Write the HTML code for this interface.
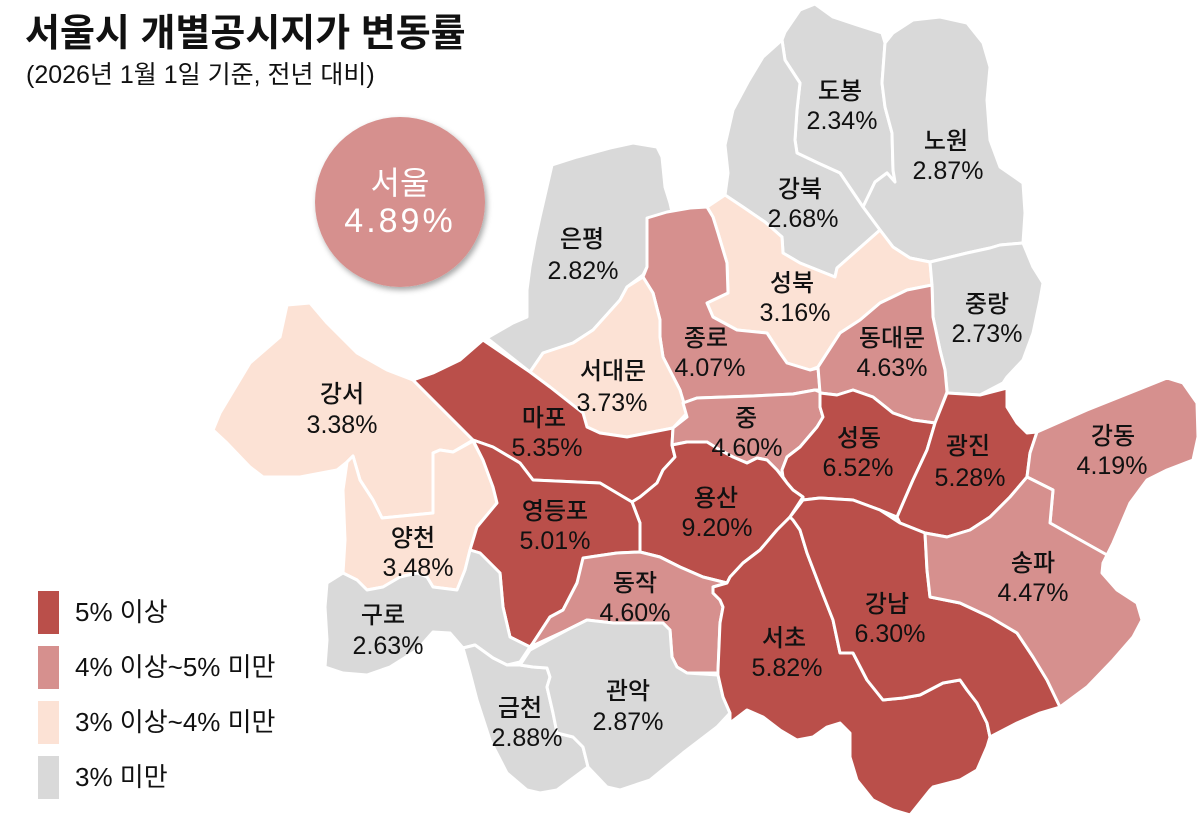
<!DOCTYPE html>
<html>
<head>
<meta charset="utf-8">
<style>
html,body{margin:0;padding:0;background:#fff;}
svg{display:block;}
text{font-family:"Liberation Sans","Noto Sans CJK KR",sans-serif;}
.k{font-size:24px;font-weight:500;fill:#111;text-anchor:middle;}
.n{font-size:25px;fill:#111;text-anchor:middle;}
.d{fill:#BA4F4A;}
.m{fill:#D6908E;}
.p{fill:#FCE2D5;}
.g{fill:#D9D9D9;}
.map polygon{stroke:#fff;stroke-width:3;stroke-linejoin:round;}
</style>
</head>
<body>
<svg width="1200" height="817" viewBox="0 0 1200 817" xmlns="http://www.w3.org/2000/svg">
<defs>
<filter id="sh" x="-20%" y="-20%" width="150%" height="150%">
<feDropShadow dx="2" dy="3" stdDeviation="3" flood-color="#000" flood-opacity="0.35"/>
</filter>
</defs>
<rect width="1200" height="817" fill="#fff"/>

<text x="25" y="46" style="font-size:38px;font-weight:bold;fill:#111;">서울시 개별공시지가 변동률</text>
<text x="26" y="83" style="font-size:25px;fill:#111;">(2026년 1월 1일 기준, 전년 대비)</text>

<circle cx="400" cy="202" r="85" fill="#D6908E" filter="url(#sh)"/>
<text x="400" y="194" style="font-size:32px;fill:#fff;text-anchor:middle;">서울</text>
<text x="400" y="232" style="font-size:34px;fill:#fff;text-anchor:middle;letter-spacing:3px;">4.89%</text>

<g class="map">
<polygon class="g" points="785,32 800,10 815,4 833,17 857,25 882,33 885,43 882,83 885,107 892,133 893,170 895,182 887,173 875,182 863,207 840,173 818,163 797,153 795,140 797,110 800,83 785,60 782,40"/>
<polygon class="g" points="885,43 893,33 913,20 940,17 967,23 983,43 990,67 987,100 990,140 1000,167 1023,183 1025,213 1023,243 1000,245 990,248 967,253 930,262 910,258 893,247 880,230 863,207 875,182 887,173 895,182 893,170 892,133 885,107 882,83"/>
<polygon class="g" points="782,40 785,60 800,83 797,110 795,140 797,153 818,163 840,173 863,207 880,230 837,268 835,277 800,263 783,253 782,237 765,222 743,207 725,195 728,173 725,145 733,110 748,82 763,57"/>
<polygon class="g" points="552,165 577,157 610,148 633,143 657,147 662,157 665,187 670,203 672,212 647,220 647,240 647,267 643,275 627,287 620,300 593,330 573,343 543,353 530,372 487,338 513,323 527,317 527,290 530,267 535,240 540,217"/>
<polygon class="p" points="707,207 725,195 743,207 765,222 782,237 783,253 800,263 835,277 837,268 880,230 893,247 910,258 930,262 932,285 907,290 880,303 860,320 840,333 818,367 810,370 787,363 780,353 767,333 737,330 713,317 707,303 728,293 727,263 718,233 713,217"/>
<polygon class="g" points="930,262 967,253 990,248 1000,245 1023,243 1033,267 1043,283 1040,300 1033,333 1023,360 1007,377 1003,383 980,395 947,393 947,390 945,370 940,350 933,317 932,285"/>
<polygon class="m" points="647,218 667,212 690,208 707,207 713,217 718,233 727,263 728,293 707,303 713,317 737,330 767,333 780,353 787,363 810,370 818,368 820,390 815,390 793,394 753,396 697,398 683,403 680,390 663,357 660,337 660,320 653,293 643,277 647,267 647,240"/>
<polygon class="m" points="818,367 840,333 860,320 880,303 907,290 932,285 933,317 940,350 945,370 947,392 935,423 913,420 893,413 873,397 853,390 837,395 820,393"/>
<polygon class="p" points="643,277 653,293 660,320 660,337 663,357 680,390 687,413 673,428 627,437 600,433 587,427 583,413 550,387 530,372 543,353 573,343 593,330 620,300 627,287"/>
<polygon class="p" points="287,305 310,303 327,323 357,353 387,370 413,380 433,400 453,420 473,440 453,452 440,450 433,453 433,513 382,518 373,500 360,480 353,456 347,462 337,470 300,477 263,477 250,467 227,443 213,430 220,413 250,363 280,337"/>
<polygon class="p" points="347,462 353,456 360,480 373,500 382,518 433,513 433,453 440,450 453,452 473,441 483,460 493,487 497,503 477,527 470,550 465,570 457,590 433,587 427,577 417,573 400,577 383,587 367,590 357,580 343,573 345,540 343,490"/>
<polygon class="d" points="413,380 433,373 460,360 483,340 530,372 550,387 583,413 587,427 600,433 627,437 673,428 672,445 675,457 663,470 657,483 640,497 632,502 600,483 533,480 520,463 493,447 473,440 453,420 433,400"/>
<polygon class="m" points="683,403 697,398 753,396 793,394 815,390 820,392 820,407 823,417 817,427 800,447 787,457 782,470 783,477 777,470 767,460 757,458 747,463 733,457 720,450 707,442 687,442 672,445 673,428 687,417"/>
<polygon class="d" points="820,393 837,395 853,390 873,397 893,413 913,420 935,423 927,450 913,480 897,517 880,510 853,500 820,498 803,500 803,497 793,490 787,483 783,477 782,470 787,457 800,447 817,427 823,417 820,407"/>
<polygon class="d" points="947,393 980,395 1007,388 1007,407 1017,423 1027,433 1037,432 1030,453 1027,477 1010,497 990,517 970,530 947,537 925,533 900,523 897,517 913,480 927,450 935,423"/>
<polygon class="m" points="1037,432 1087,410 1167,378 1183,383 1197,403 1198,437 1193,460 1167,470 1147,480 1130,503 1113,543 1107,555 1050,523 1053,490 1027,477 1030,453"/>
<polygon class="d" points="672,445 687,442 707,442 720,450 733,457 747,463 757,458 767,460 777,470 787,483 793,490 803,497 790,517 777,530 760,550 743,563 730,577 727,583 703,577 680,567 660,557 640,552 640,523 632,502 640,497 657,483 663,470 675,457"/>
<polygon class="d" points="473,440 493,447 520,463 533,480 600,483 632,502 640,523 640,552 617,553 590,557 583,565 577,583 563,610 550,617 533,643 530,647 510,637 503,607 500,573 480,553 470,550 477,527 497,503 493,487 483,460"/>
<polygon class="g" points="343,573 357,580 367,590 383,587 400,577 417,573 427,577 433,587 457,590 465,570 470,550 480,553 500,573 503,607 510,637 530,647 520,662 507,665 493,658 475,645 463,648 450,633 433,632 417,650 390,667 367,675 343,673 325,667 327,640 325,607 327,583"/>
<polygon class="m" points="530,647 533,643 550,617 563,610 577,583 583,558 617,553 640,552 660,557 680,567 703,577 727,583 713,587 713,593 720,600 723,607 720,623 718,673 687,673 677,667 672,657 670,630 663,623 640,623 613,623 587,620 567,630"/>
<polygon class="g" points="463,648 475,645 493,658 507,665 520,665 533,667 547,668 550,677 547,687 553,713 557,733 573,737 583,747 588,767 557,790 540,793 527,790 507,773 490,740 477,700 470,673"/>
<polygon class="g" points="530,650 567,630 587,620 613,623 640,623 663,623 670,630 672,657 677,667 687,673 718,675 723,697 730,713 717,727 683,753 650,780 620,790 607,787 588,767 583,747 573,737 557,733 553,713 547,687 550,677 547,668 533,667 520,665"/>
<polygon class="d" points="790,517 793,520 800,530 807,553 820,587 833,620 840,653 853,653 867,680 883,700 903,698 920,695 943,683 960,680 967,690 977,703 987,723 990,737 987,747 977,770 960,780 933,787 930,790 910,815 893,810 873,800 857,780 850,757 850,733 840,723 827,727 813,737 797,740 780,730 763,717 747,710 730,723 730,713 723,697 718,675 718,670 720,623 723,607 720,600 713,593 713,587 727,583 730,577 743,563 760,550 777,530"/>
<polygon class="d" points="803,500 820,498 853,500 880,510 900,523 925,533 927,570 930,597 960,603 990,617 1017,633 1033,657 1047,680 1060,707 1040,713 1017,723 990,737 987,723 977,703 967,690 960,680 943,683 920,695 903,698 883,700 867,680 853,653 840,653 833,620 820,587 807,553 800,530 793,520 790,517"/>
<polygon class="m" points="925,533 947,537 970,530 990,517 1010,497 1027,477 1053,490 1050,523 1107,555 1103,563 1102,573 1117,590 1137,603 1142,620 1133,637 1113,660 1087,687 1060,707 1047,680 1033,657 1017,633 990,617 960,603 930,597 927,570"/>
</g>

<text class="k" x="840" y="99">도봉</text><text class="n" x="842" y="129">2.34%</text>
<text class="k" x="946" y="149">노원</text><text class="n" x="948" y="179">2.87%</text>
<text class="k" x="800" y="197">강북</text><text class="n" x="803" y="227">2.68%</text>
<text class="k" x="582" y="247">은평</text><text class="n" x="583" y="279">2.82%</text>
<text class="k" x="792" y="291">성북</text><text class="n" x="795" y="321">3.16%</text>
<text class="k" x="987" y="312">중랑</text><text class="n" x="987" y="342">2.73%</text>
<text class="k" x="706" y="346">종로</text><text class="n" x="710" y="376">4.07%</text>
<text class="k" x="892" y="346">동대문</text><text class="n" x="892" y="376">4.63%</text>
<text class="k" x="613" y="379">서대문</text><text class="n" x="612" y="411">3.73%</text>
<text class="k" x="342" y="402">강서</text><text class="n" x="342" y="433">3.38%</text>
<text class="k" x="544" y="426">마포</text><text class="n" x="547" y="456">5.35%</text>
<text class="k" x="746" y="426">중</text><text class="n" x="747" y="456">4.60%</text>
<text class="k" x="859" y="446">성동</text><text class="n" x="858" y="476">6.52%</text>
<text class="k" x="968" y="454">광진</text><text class="n" x="970" y="486">5.28%</text>
<text class="k" x="1113" y="444">강동</text><text class="n" x="1112" y="474">4.19%</text>
<text class="k" x="716" y="506">용산</text><text class="n" x="717" y="536">9.20%</text>
<text class="k" x="555" y="519">영등포</text><text class="n" x="555" y="549">5.01%</text>
<text class="k" x="413" y="546">양천</text><text class="n" x="418" y="576">3.48%</text>
<text class="k" x="1033" y="571">송파</text><text class="n" x="1033" y="601">4.47%</text>
<text class="k" x="635" y="591">동작</text><text class="n" x="635" y="621">4.60%</text>
<text class="k" x="887" y="612">강남</text><text class="n" x="890" y="642">6.30%</text>
<text class="k" x="383" y="623">구로</text><text class="n" x="388" y="654">2.63%</text>
<text class="k" x="784" y="646">서초</text><text class="n" x="787" y="676">5.82%</text>
<text class="k" x="628" y="699">관악</text><text class="n" x="628" y="730">2.87%</text>
<text class="k" x="520" y="716">금천</text><text class="n" x="527" y="746">2.88%</text>

<rect x="38" y="591" width="21" height="43" class="d"/>
<rect x="38" y="646" width="21" height="43" class="m"/>
<rect x="38" y="701" width="21" height="43" class="p"/>
<rect x="38" y="756" width="21" height="43" class="g"/>
<text x="75" y="621" style="font-size:26px;fill:#111;">5% 이상</text>
<text x="75" y="676" style="font-size:26px;fill:#111;">4% 이상~5% 미만</text>
<text x="75" y="731" style="font-size:26px;fill:#111;">3% 이상~4% 미만</text>
<text x="75" y="786" style="font-size:26px;fill:#111;">3% 미만</text>
</svg>
</body>
</html>
